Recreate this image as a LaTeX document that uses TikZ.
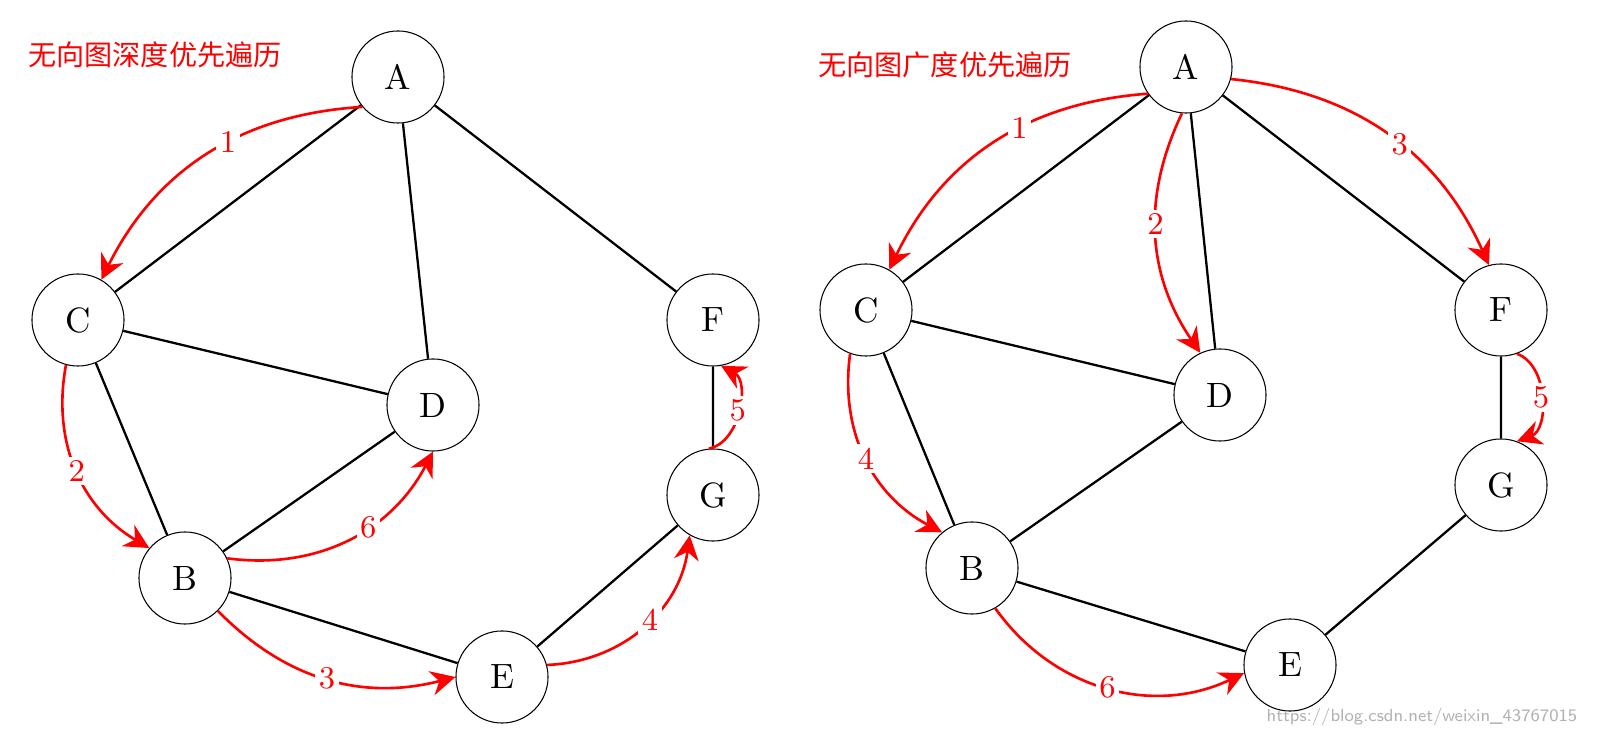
\documentclass[tikz,border=0pt]{standalone}
\usepackage{fontspec}
\newfontfamily\cjk{Noto Sans CJK SC}
\usetikzlibrary{arrows.meta}
\begin{document}
\begin{tikzpicture}[x=0.01cm,y=-0.01cm,
  vtx/.style={circle,draw,line width=0.3pt,minimum size=0.92cm,inner sep=0pt,font=\fontsize{10}{11}\selectfont},
  edge/.style={line width=0.65pt},
  trav/.style={red,line width=0.75pt,-{Stealth[length=7pt,width=7pt]}},
  lab/.style={fill=white,text=red,inner sep=1pt,font=\fontsize{9}{10}\selectfont},
  ttl/.style={text=red,font=\cjk\fontsize{8}{9}\selectfont}]
\useasboundingbox (0,0) rectangle (1599,749);
% left graph
\node[vtx] (A) at (398,77) {A};
\node[vtx] (C) at (78,320) {C};
\node[vtx] (D) at (433,405) {D};
\node[vtx] (F) at (713,320) {F};
\node[vtx] (G) at (713,495) {G};
\node[vtx] (B) at (185,578) {B};
\node[vtx] (E) at (502,677) {E};
\draw[edge] (A)--(C) (A)--(D) (A)--(F) (C)--(D) (C)--(B) (B)--(D) (B)--(E) (E)--(G) (G)--(F);
\draw[trav] (A.220) to[bend right=30] node[lab,pos=0.42]{1} (C.60);
\draw[trav] (C.255) to[bend right=35] node[lab,pos=0.5]{2} (B.140);
\draw[trav] (B.25) to[bend right=35] node[lab,pos=0.6]{6} (D.270);
\draw[trav] (B.315) to[bend right=30] node[lab,pos=0.5]{3} (E.180);
\draw[trav] (E.15) to[bend right=40] node[lab,pos=0.55]{4} (G.240);
\draw[trav] (G.95) to[bend right=70] node[lab,pos=0.5]{5} (F.280);
\node[ttl] (t1) at (155,55) {无向图深度优先遍历};
% right graph
\node[vtx] (A2) at (1186,67) {A};
\node[vtx] (C2) at (866,310) {C};
\node[vtx] (D2) at (1220,395) {D};
\node[vtx] (F2) at (1501,310) {F};
\node[vtx] (G2) at (1501,485) {G};
\node[vtx] (B2) at (972,568) {B};
\node[vtx] (E2) at (1290,665) {E};
\draw[edge] (A2)--(C2) (A2)--(D2) (A2)--(F2) (C2)--(D2) (C2)--(B2) (B2)--(D2) (B2)--(E2) (E2)--(G2) (F2)--(G2);
\draw[trav] (A2.215) to[bend right=30] node[lab,pos=0.4]{1} (C2.60);
\draw[trav] (A2.265) to[bend right=30] node[lab,pos=0.45]{2} (D2.115);
\draw[trav] (A2.345) to[bend left=30] node[lab,pos=0.55]{3} (F2.105);
\draw[trav] (C2.250) to[bend right=35] node[lab,pos=0.5]{4} (B2.130);
\draw[trav] (F2.290) to[bend left=70] node[lab,pos=0.5]{5} (G2.70);
\draw[trav] (B2.300) to[bend right=40] node[lab,pos=0.5]{6} (E2.190);
\node[ttl] (t2) at (945,65) {无向图广度优先遍历};
\node[text=gray!60,font=\sffamily\fontsize{5}{6}\selectfont] (wm) at (1422,717) {https://blog.csdn.net/weixin\_43767015};
\end{tikzpicture}
\end{document}
